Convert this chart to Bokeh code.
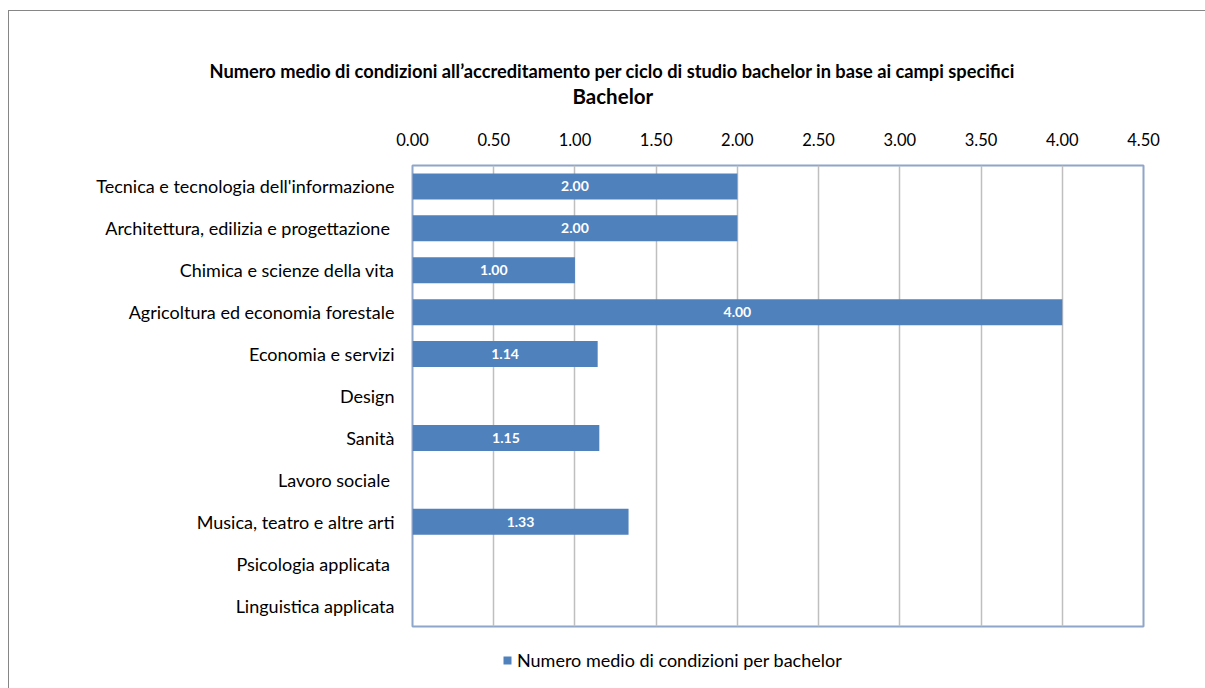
from bokeh.plotting import figure
from bokeh.layouts import column
from bokeh.models import FactorRange, Range1d, ColumnDataSource, Title, Legend, LegendItem, FixedTicker, LabelSet, CustomJSTickFormatter
from bokeh.embed import file_html
from bokeh.resources import INLINE
from bokeh.core.properties import value

categories = [
    "Tecnica e tecnologia dell'informazione",
    "Architettura, edilizia e progettazione ",
    "Chimica e scienze della vita",
    "Agricoltura ed economia forestale",
    "Economia e servizi",
    "Design",
    "Sanità",
    "Lavoro sociale ",
    "Musica, teatro e altre arti",
    "Psicologia applicata ",
    "Linguistica applicata",
]
values = [2.00, 2.00, 1.00, 4.00, 1.14, None, 1.15, None, 1.33, None, None]
x_ticks = [0.0, 0.5, 1.0, 1.5, 2.0, 2.5, 3.0, 3.5, 4.0, 4.5]
title_text = "Numero medio di condizioni all\u2019accreditamento per ciclo di studio bachelor in base ai campi specifici"
subtitle_text = "Bachelor"
series_name = "Numero medio di condizioni per bachelor"

FONT = "Lato"
BAR = "#4F81BD"
BORDER = "1px solid #868686"

bar_cats = [c for c, v in zip(categories, values) if v is not None]
bar_vals = [v for v in values if v is not None]
src = ColumnDataSource(dict(cat=bar_cats, val=bar_vals,
                            mid=[v / 2 for v in bar_vals],
                            lab=["%.2f" % v for v in bar_vals]))

p = figure(frame_width=730, frame_height=460, output_backend="svg", toolbar_location=None,
           y_range=FactorRange(*reversed(categories)),
           x_range=Range1d(0, 4.5), x_axis_location="above",
           min_border_left=403, min_border_right=64, min_border_bottom=20, min_border_top=154)
p.styles = {"margin-left": "8px", "margin-top": "10px",
            "border-left": BORDER, "border-top": BORDER}

r = p.hbar(y="cat", right="val", left=0, height=0.62, source=src, color=BAR, line_color=None)

labels = LabelSet(x="mid", y="cat", text="lab", source=src, text_align="center",
                  text_baseline="middle", text_color="white", text_font=value(FONT),
                  text_font_style="bold", text_font_size="14px")
p.add_layout(labels)

# axes
xa = p.xaxis[0]
xa.ticker = FixedTicker(ticks=x_ticks)
xa.formatter = CustomJSTickFormatter(code="return tick.toFixed(2);")
xa.axis_line_color = None
xa.major_tick_line_color = None
xa.minor_tick_line_color = None
xa.major_tick_out = 0
xa.minor_tick_out = 0
xa.major_label_text_font = FONT
xa.major_label_text_font_size = "16.5px"
xa.major_label_text_color = "#000000"
xa.major_label_standoff = 20

ya = p.yaxis[0]
ya.axis_line_color = None
ya.major_tick_line_color = None
ya.minor_tick_line_color = None
ya.major_tick_out = 0
ya.minor_tick_out = 0
ya.major_label_text_font = FONT
ya.major_label_text_font_size = "18px"
ya.major_label_text_color = "#000000"
ya.major_label_standoff = 18

p.xgrid.grid_line_color = "#BFBFBF"
p.xgrid.grid_line_width = 1.5
p.ygrid.grid_line_color = None
p.outline_line_color = "#8EA6C9"
p.outline_line_width = 2
p.background_fill_color = "white"
p.border_fill_color = "white"

# titles (centred on the whole chart, not on the plot frame)
p.add_layout(Title(text=" ", text_font_size="1px", standoff=18), "above")
p.add_layout(Title(text=subtitle_text, align="left", offset=160, text_font=FONT,
                   text_font_size="20.5px", text_font_style="bold", text_color="#000000",
                   standoff=1), "above")
p.add_layout(Title(text=title_text, align="left", offset=-203, text_font=FONT,
                   text_font_size="18.25px", text_font_style="bold", text_color="#000000",
                   standoff=0), "above")

# legend strip below the chart (its frame is aligned with the chart's frame)
q = figure(width=1197, height=43, output_backend="svg", toolbar_location=None,
           x_range=Range1d(0, 4.5), y_range=Range1d(10, 11),
           x_axis_location=None, y_axis_location=None,
           min_border_left=0, min_border_right=0, min_border_top=0, min_border_bottom=0)
q.styles = {"margin-left": "8px", "border-left": BORDER}
q.grid.visible = False
q.outline_line_color = None
q.background_fill_color = "white"
q.border_fill_color = "white"
# legend proxy: same bars, lying below this strip's visible y range
rq = q.hbar(y="val", right="val", left=0, height=0.5, source=src, color=BAR, line_color=None)

legend = Legend(items=[LegendItem(label=series_name, renderers=[rq])], orientation="horizontal",
                location=(90, 17), label_text_font=FONT, label_text_font_size="18px",
                label_text_color="#000000", border_line_color=None, glyph_width=10, glyph_height=10,
                label_standoff=5, margin=0, padding=0, spacing=0, background_fill_alpha=0)
q.add_layout(legend)

layout = column(p, q, spacing=0)
open("out.html", "w").write(file_html(layout, INLINE))
